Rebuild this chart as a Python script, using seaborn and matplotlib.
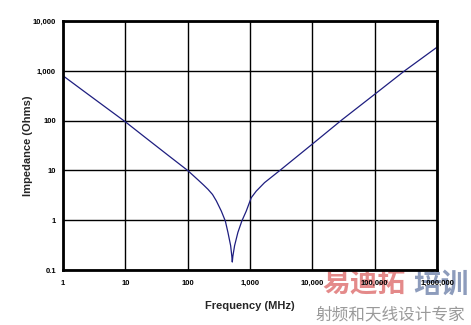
import matplotlib
matplotlib.use("Agg")
import matplotlib.pyplot as plt
import seaborn as sns
import pandas as pd
from matplotlib.ticker import FixedLocator, FixedFormatter, NullLocator

freq_mhz = [1, 2, 5, 10, 20, 50, 100, 146, 180, 211, 250, 288, 346, 401, 442,
            488, 510, 519, 530, 565, 638, 739, 869, 1045, 1256, 1706, 3000,
            10000, 30000, 100000, 300000, 1000000]
impedance_ohms = [800, 420, 180, 95, 48, 19.6, 10, 6.5, 5.1, 4.2, 3.3, 2.45,
                  1.53, 0.97, 0.57, 0.31, 0.19, 0.145, 0.19, 0.31, 0.57, 0.97,
                  1.53, 2.84, 3.85, 5.7, 10, 34, 105, 340, 1000, 3000]

x_ticks = [1, 10, 100, 1000, 10000, 100000, 1000000]
x_tick_labels = ["1", "10", "100", "1,000", "10,000", "100,000", "1,000,000"]
y_ticks = [0.1, 1, 10, 100, 1000, 10000]
y_tick_labels = ["0.1", "1", "10", "100", "1,000", "10,000"]

sns.set_style("white")
plt.rcParams['font.family'] = ['Liberation Sans', 'Noto Sans CJK SC', 'DejaVu Sans']

df = pd.DataFrame({"Frequency": freq_mhz, "Impedance": impedance_ohms})

fig = plt.figure(figsize=(4.71, 3.25), dpi=100)
ax = fig.add_axes([0.1338, 0.169, 0.7942, 0.766])

sns.lineplot(data=df, x="Frequency", y="Impedance", ax=ax, color="#1e1e80",
             linewidth=0.9)
ax.set_xscale("log")
ax.set_yscale("log")
ax.set_xlim(1, 1000000)
ax.set_ylim(0.1, 10000)

ax.xaxis.set_major_locator(FixedLocator(x_ticks))
ax.xaxis.set_major_formatter(FixedFormatter(x_tick_labels))
ax.xaxis.set_minor_locator(NullLocator())
ax.yaxis.set_major_locator(FixedLocator(y_ticks))
ax.yaxis.set_major_formatter(FixedFormatter(y_tick_labels))
ax.yaxis.set_minor_locator(NullLocator())

ax.grid(True, which="major", color="black", linewidth=1.0)
for s in ax.spines.values():
    s.set_visible(True)
    s.set_color("black")
    s.set_linewidth(2.0)

ax.tick_params(axis="both", length=0, labelsize=5.5, colors="black")
ax.tick_params(axis="x", pad=7)
ax.tick_params(axis="y", pad=5)
for lab in ax.get_xticklabels() + ax.get_yticklabels():
    lab.set_fontweight("bold")

ax.set_xlabel("Frequency (MHz)", fontsize=8, fontweight="bold", labelpad=10)
ax.set_ylabel("Impedance (Ohms)", fontsize=8, fontweight="bold", labelpad=0)

# watermark
cjk = ['Noto Sans CJK SC', 'DejaVu Sans']
fig.text(0.684, 0.125, "易迪拓", fontsize=20, fontweight="bold", color="#e48a8a",
         family=cjk, va="center", ha="left", zorder=-1)
fig.text(0.877, 0.125, "培训", fontsize=20, fontweight="bold", color="#8d9cbc",
         family=cjk, va="center", ha="left", zorder=-1)
fig.text(0.669, 0.031, "射频和天线设计专家", fontsize=12, color="#9a9a9a",
         family=cjk, va="center", ha="left", zorder=-1)

fig.savefig("out.png", dpi=100, facecolor="white")
